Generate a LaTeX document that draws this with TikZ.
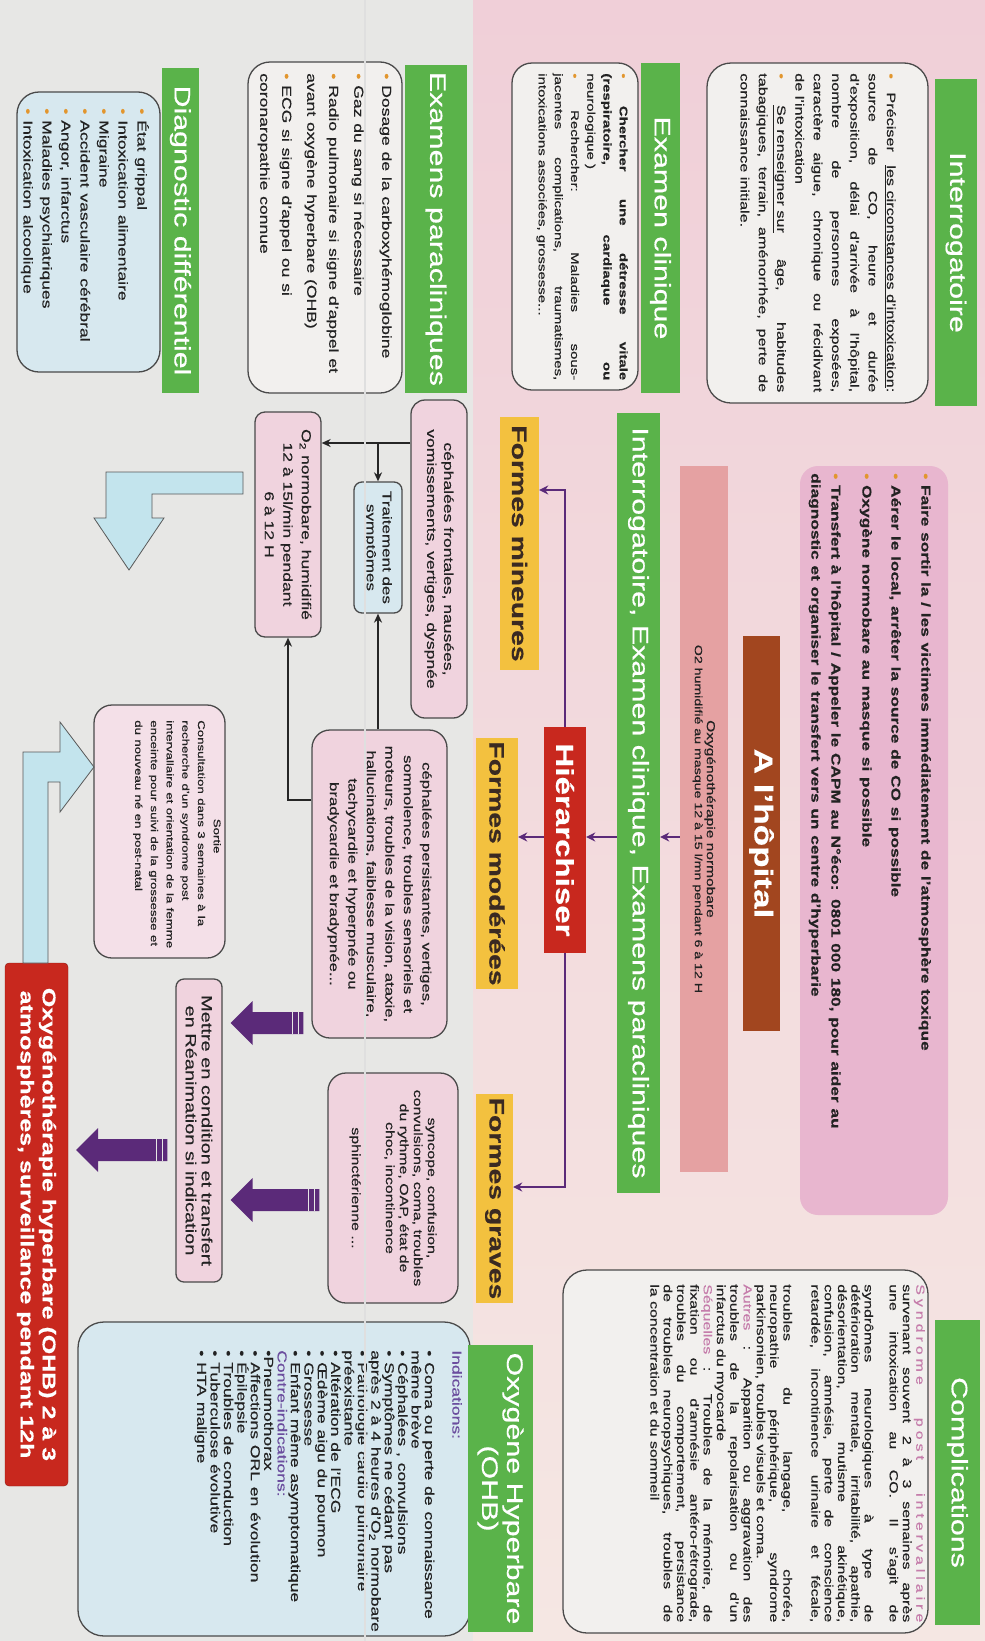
\documentclass[tikz,border=0pt]{standalone}
\usepackage{fontspec}
\setmainfont{Liberation Sans}[FakeBold=0.45]
\usetikzlibrary{arrows.meta,calc}
\definecolor{grn}{HTML}{5AB34A}
\definecolor{graybg}{HTML}{E7E7E5}
\definecolor{pinkbg}{HTML}{F0CFD8}
\definecolor{pinkbg2}{HTML}{F5E7E3}
\definecolor{boxwhite}{HTML}{F2F0EE}
\definecolor{boxblue}{HTML}{D7E8EF}
\definecolor{boxpink}{HTML}{F0D3DE}
\definecolor{actpink}{HTML}{E8B6CF}
\definecolor{brownbox}{HTML}{A2461F}
\definecolor{salmon}{HTML}{E5A1A2}
\definecolor{redbox}{HTML}{C8281E}
\definecolor{yel}{HTML}{F3C13F}
\definecolor{ftext}{HTML}{3A2A22}
\definecolor{purp}{HTML}{5B2A79}
\definecolor{bul}{HTML}{E2962E}
\definecolor{mauve}{HTML}{C57DAB}
\definecolor{indig}{HTML}{6B4D9E}
\definecolor{lblue}{HTML}{C3E4ED}
\definecolor{border}{HTML}{4A4A4A}
\definecolor{ink}{HTML}{222222}
\setlength{\parindent}{0pt}
\hbadness=10000 \vbadness=10000 \hfuzz=20pt
\newcommand{\fs}[2]{\fontsize{#1pt}{#2pt}\selectfont}
\newcommand{\bu}{{\color{bul}\textbullet}\ }
\newcommand{\jpar}{{\parfillskip=0pt\par}}
\newcommand{\parrow}[2]{%
  \fill[purp] ($(#1)+(8,0)$) -- ++(22,-22) -- ++(0,11) -- ($(#2)+(-8,-11)$) -- ++(0,22) -- ($(#1)+(30,11)$) -- ++(0,11) -- cycle;
  \draw[graybg, line width=1.6pt] ($(#2)+(-13,-11)$) -- ++(0,22);
  \draw[graybg, line width=1.6pt] ($(#2)+(-19,-11)$) -- ++(0,22);}
\begin{document}
\begin{tikzpicture}[x=1pt,y=-1pt,
  rbox/.style={rotate=-90, draw=border, line width=1.3pt, rounded corners=14pt, inner sep=0pt},
  gtitle/.style={rotate=-90, xscale=1.35, fill=grn, text=white, inner sep=0pt, align=center, font=\fs{22.5}{25}},
  ftitle/.style={rotate=-90, xscale=1.35, fill=yel, text=ftext, inner sep=0pt, font=\bfseries\fs{21}{22}},
  txt/.style={rotate=-90, xscale=1.35, inner sep=0pt, anchor=north west, text=ink},
  ctxt/.style={rotate=-90, xscale=1.35, inner sep=0pt, align=center, text=ink},
  parr/.style={draw=purp, line width=2pt, -{Stealth[length=9pt,width=9pt]}},
  barr/.style={draw=black!85, line width=2pt, -{Stealth[length=9pt,width=8pt]}},
  barrow/.style={fill=lblue, draw=gray!70!black, line width=0.8pt}
]
\useasboundingbox (0,0) rectangle (985,1641);
\fill[graybg] (0,0) rectangle (985,1641);
\shade[top color=pinkbg, bottom color=pinkbg2] (473,0) rectangle (985,1641);

% ---------- Interrogatoire ----------
\node[gtitle, minimum width=242.2pt, minimum height=42pt] (t1) at (956,242.5) {Interrogatoire};
\node[rbox, fill=boxwhite, minimum width=340pt, minimum height=221pt, rounded corners=24pt] (interbox) at (817.5,233) {};
\node[txt, text width=236.3pt, align=justify, font=\fs{12}{18.3}] (intertxt) at (896,73) {%
\bu Préciser \underline{les circonstances d'intoxication}: \linebreak
source de CO, heure et durée \linebreak
d'exposition, délai d'arrivée à l'hôpital, \linebreak
nombre de personnes exposées, \linebreak
caractère aigue, chronique ou récidivant \linebreak
de l'intoxication\par
\bu \underline{Se renseigner sur} âge, habitudes \linebreak
tabagiques, terrain, aménorrhée, perte de \linebreak
connaissance initiale.};

% ---------- Actions ----------
\node[rotate=-90, fill=actpink, rounded corners=18pt, minimum width=749pt, minimum height=148pt, inner sep=0pt] (actbox) at (874,840.5) {};
\node[txt, text width=533pt, align=left, font=\bfseries\fs{12.8}{20}] (acttxt) at (931,473) {%
\bu Faire sortir la / les victimes immédiatement de l'atmosphère toxique\\[10pt]
\bu Aérer le local, arrêter la source de CO si possible\\[9pt]
\bu Oxygène normobare au masque si possible\\[11pt]
\bu Transfert à l'hôpital / Appeler le CAPM au N°éco: 0801 000 180, pour aider au\\
diagnostic et organiser le transfert vers un centre d'hyperbarie};

\node[rotate=-90, xscale=1.35, fill=brownbox, text=white, inner sep=0pt, minimum width=292.6pt, minimum height=37pt, font=\bfseries\fs{26}{28}] (hopital) at (761.5,833.5) {A l'hôpital};
\node[rotate=-90, xscale=1.35, fill=salmon, text=ink, inner sep=0pt, align=center, minimum width=523pt, minimum height=48pt] (salmon) at (704,819) {{\fs{11.5}{18}Oxygénothérapie normobare}\\{\fs{10.5}{18}O2 humidifié au masque 12 à 15 l/mn pendant 6 à 12 H}};
\node[gtitle, minimum width=577.8pt, minimum height=43pt] (t2) at (638.5,803) {Interrogatoire, Examen clinique, Examens paracliniques};
\node[rotate=-90, xscale=1.35, fill=redbox, text=white, inner sep=0pt, minimum width=167.4pt, minimum height=42pt, font=\bfseries\fs{24.5}{26}] (hier) at (565,840) {Hiérarchiser};

\node[ftitle, minimum width=187.4pt, minimum height=39pt] (fmin) at (519.5,543.5) {Formes mineures};
\node[ftitle, minimum width=185.9pt, minimum height=42pt] (fmod) at (497,863.5) {Formes modérées};
\node[ftitle, minimum width=154.8pt, minimum height=37pt] (fgra) at (494.5,1198.5) {Formes graves};

\draw[parr] (salmon.south |- 0,837) -- (t2.north |- 0,837);
\draw[parr] (t2.south |- 0,837) -- (hier.north |- 0,837);
\draw[parr] (hier.south |- 0,837) -- (fmod.north |- 0,837);
\draw[parr] (hier.west) |- (fmin.north |- 0,490);
\draw[parr] (hier.east) |- (fgra.north |- 0,1187);

% ---------- Complications ----------
\node[gtitle, minimum width=225.9pt, minimum height=45pt] (t3) at (957.5,1472.5) {Complications};
\node[rbox, fill=boxwhite, minimum width=363pt, minimum height=365pt, rounded corners=24pt] (complbox) at (745.5,1451.5) {};
\node[txt, text width=250.4pt, align=justify, font=\fs{11.8}{13.3}] (compltxt) at (925,1284) {%
{\color{mauve}\addfontfeature{LetterSpace=25}Syndrome post intervallaire}\linebreak
survenant souvent 2 à 3 semaines après \linebreak
une intoxication au CO. Il s'agit de\jpar\vspace{11.7pt}
syndrômes neurologiques à type de \linebreak
détérioration mentale, irritabilité, apathie, \linebreak
désorientation, mutisme akinétique, \linebreak
confusion, amnésie, perte de conscience \linebreak
retardée, incontinence urinaire et fécale,\jpar\vspace{14.7pt}
troubles du langage, chorée, \linebreak
neuropathie périphérique, syndrome \linebreak
parkinsonien, troubles visuels et coma.\par
{\color{mauve}Autres} : Apparition ou aggravation des \linebreak
troubles de la repolarisation ou d'un \linebreak
infarctus du myocarde\par
{\color{mauve}Séquelles} : Troubles de la mémoire, de \linebreak
fixation ou d'amnésie antéro-rétrograde, \linebreak
troubles du comportement, persistance \linebreak
de troubles neuropsychiques, troubles de \linebreak
la concentration et du sommeil};

% ---------- Examen clinique ----------
\node[gtitle, minimum width=244.4pt, minimum height=39pt] (t4) at (660.5,228) {Examen clinique};
\node[rbox, fill=boxwhite, minimum width=327pt, minimum height=126pt, rounded corners=20pt] (clinbox) at (575,226.5) {};
\node[txt, text width=227.4pt, align=justify, font=\fs{11.1}{16.2}] (clintxt) at (628,73) {%
\bu {\bfseries Chercher une détresse vitale \linebreak
(respiratoire, cardiaque ou} \linebreak
neurologique )\par
\bu Rechercher: Maladies sous-\linebreak
jacentes complications, traumatismes, \linebreak
intoxications associées, grossesse...};

% ---------- Examens paracliniques ----------
\node[gtitle, minimum width=243pt, minimum height=62pt] (t5) at (436,229) {Examens paracliniques};
\node[rbox, fill=boxwhite, minimum width=331pt, minimum height=154pt, rounded corners=22pt] (parabox) at (325,227.5) {};
\node[txt, text width=226pt, align=left, font=\fs{13}{22}] (paratxt) at (392,73) {%
\bu Dosage de la carboxyhémoglobine\\[6pt]
\bu Gaz du sang si nécessaire\\[3pt]
\bu Radio pulmonaire si signe d'appel et\\
avant oxygène hyperbare (OHB)\\[3pt]
\bu ECG si signe d'appel ou si\\
coronaropathie connue};

% ---------- Diagnostic differentiel ----------
\node[gtitle, minimum width=240.7pt, minimum height=37pt] (t6) at (180.5,230.5) {Diagnostic différentiel};
\node[rbox, fill=boxblue, minimum width=280pt, minimum height=143pt, rounded corners=22pt] (diagbox) at (88.5,232) {};
\node[txt, text width=185pt, align=left, font=\fs{13}{19}] (diagtxt) at (149,108) {%
\bu État grippal\\ \bu Intoxication alimentaire\\ \bu Migraine\\ \bu Accident vasculaire cérébral\\ \bu Angor, infarctus\\ \bu Maladies psychiatriques\\ \bu Intoxication alcoolique};

% ---------- Formes mineures ----------
\node[rbox, fill=boxpink, minimum width=318pt, minimum height=56pt] (cmin) at (439,559) {};
\node[ctxt, font=\fs{13}{17}] (cmintxt) at (cmin) {céphalées frontales, nausées,\\vomissements, vertiges, dyspnée};
\node[rbox, fill=boxblue, minimum width=131pt, minimum height=48pt, rounded corners=8pt] (trait) at (378,547.5) {};
\node[ctxt, font=\fs{12.6}{16}] (traittxt) at (trait) {Traitement des\\symptômes};
\node[rbox, fill=boxpink, minimum width=225pt, minimum height=66pt, rounded corners=10pt] (o2) at (288,524.5) {};
\node[ctxt, font=\fs{13}{18.5}] (o2txt) at (o2) {O\textsubscript{2} normobare, humidifié\\12 à 15l/min pendant\\6 à 12 H};
\draw[barr] (cmin.south |- 0,443) -- (o2.north |- 0,443);
\draw[barr] (trait.west |- 0,443) -- (trait.west);

% ---------- Formes moderees ----------
\node[rbox, fill=boxpink, minimum width=308pt, minimum height=135pt, rounded corners=18pt] (cmod) at (379.5,884) {};
\node[ctxt, font=\fs{12.4}{18.5}] (cmodtxt) at (cmod) {céphalées persistantes, vertiges,\\somnolence, troubles sensoriels et\\moteurs, troubles de la vision, ataxie,\\hallucinations, faiblesse musculaire,\\tachycardie et hyperpnée ou\\bradycardie et bradypnée...};
\draw[barr] (trait.east |- cmod.west) -- (trait.east);
\draw[barr] (cmod.south |- 0,800) -| (o2.east);

% ---------- Formes graves ----------
\node[rbox, fill=boxpink, minimum width=230pt, minimum height=130pt, rounded corners=18pt] (cgra) at (393,1188) {};
\node[ctxt, font=\fs{11.8}{14}] (cgratxt) at (cgra) {syncope, confusion,\\convulsions, coma, troubles\\du rythme, OAP, état de\\choc, incontinence\\[20pt]sphinctérienne ...};

\node[rbox, fill=boxpink, minimum width=303pt, minimum height=46pt, rounded corners=8pt] (mettre) at (199,1130.5) {};
\node[ctxt, font=\fs{14.8}{16}] (mettretxt) at (mettre) {Mettre en condition et transfert\\en Réanimation si indication};

\node[rotate=-90, xscale=1.35, fill=redbox, draw=redbox!70!black, rounded corners=4pt, text=white, inner sep=0pt, align=center, minimum width=387.4pt, minimum height=63pt, font=\bfseries\fs{18.5}{22}] (red) at (36.5,1224.5) {Oxygénothérapie hyperbare (OHB) 2 à 3\\atmosphères, surveillance pendant 12h};

\path (mettre.north |- 0,1023) coordinate (a1tip) (cmod.south |- 0,1023) coordinate (a1tail);
\path (mettre.north |- 0,1200) coordinate (a2tip) (cgra.south |- 0,1200) coordinate (a2tail);
\path (red.north |- 0,1150) coordinate (a3tip) (mettre.south |- 0,1150) coordinate (a3tail);
\parrow{a1tip}{a1tail}
\parrow{a2tip}{a2tail}
\parrow{a3tip}{a3tail}

% ---------- Sortie ----------
\node[rbox, fill=boxpink!70!white, minimum width=253pt, minimum height=131pt, rounded corners=18pt] (sortie) at (159.5,831.5) {};
\node[txt, text width=178pt, align=left, font=\fs{9.8}{15.7}] (sortietxt) at (221,720) {%
\hspace*{73pt}Sortie\\
Consultation dans 3 semaines à la\\
recherche d'un syndrome post\\
intervallaire et orientation de la femme\\
enceinte pour suivi de la grossesse et\\
du nouveau né en post-natal};

\filldraw[barrow] (23,963) -- (23,752) -- (60,752) -- (60,722) -- (94,767) -- (60,812) -- (60,782) -- (48,782) -- (48,963) -- cycle;
\filldraw[barrow] (243,472) -- (243,494) -- (152,494) -- (152,518) -- (164,518) -- (129,570) -- (94,518) -- (106,518) -- (106,472) -- cycle;

% ---------- OHB ----------
\node[rbox, fill=boxblue, minimum width=314pt, minimum height=392pt, rounded corners=26pt] (ohbbox) at (274,1479) {};
\node[gtitle, minimum width=212.6pt, minimum height=65pt] (t7) at (500.5,1488.5) {Oxygène Hyperbare\\(OHB)};
\node[txt, text width=211pt, align=left, font=\fs{13}{13.4}] (ohbtxt) at (462,1350) {%
{\color{indig}Indications:}\\[14pt]
\textbullet\ Coma ou perte de connaissance\\
même brève\\
\textbullet\ Céphalées , convulsions\\
\textbullet\ Symptômes ne cédant pas\\
après 2 à 4 heures d'O\textsubscript{2} normobare\\
\textbullet\ Pathologie cardio pulmonaire\\
préexistante\\
\textbullet\ Altération de l'ECG\\
\textbullet\ Œdème aigu du poumon\\
\textbullet\ Grossesse\\
\textbullet\ Enfant même asymptomatique\\
{\color{indig}Contre-indications:}\\
\textbullet Pneumothorax\\
\textbullet\ Affections ORL en évolution\\
\textbullet\ Épilepsie\\
\textbullet\ Troubles de conduction\\
\textbullet\ Tuberculose évolutive\\
\textbullet\ HTA maligne};

\draw[line width=1.2pt, white!75!gray] (365,0) -- (365,1641);
\end{tikzpicture}
\end{document}
